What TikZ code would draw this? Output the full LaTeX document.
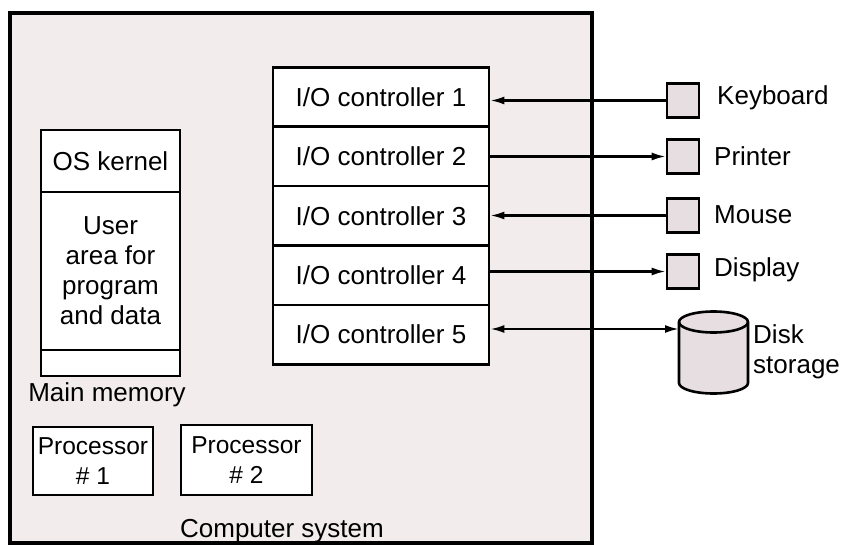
\documentclass[tikz,border=0pt]{standalone}
\usepackage{fontspec}
\setmainfont{Liberation Sans}
\usetikzlibrary{arrows.meta}
\definecolor{sysbg}{HTML}{F3ECEC}
\definecolor{devfill}{HTML}{E6DEE0}
\begin{document}
\begin{tikzpicture}[x=1pt,y=-1pt,
  box/.style={draw=black,line width=2.6pt,fill=white,inner sep=0pt,font=\fontsize{26}{30}\selectfont,align=center},
  iobox/.style={box,minimum width=216pt,minimum height=59.4pt},
  membox/.style={box,minimum width=139pt},
  procbox/.style={box,font=\fontsize{24.5}{30}\selectfont},
  dev/.style={draw=black,line width=2.6pt,fill=devfill,minimum width=32pt,minimum height=34pt,inner sep=0pt},
  lbl/.style={font=\fontsize{26}{30}\selectfont,inner sep=0pt},
  conn/.style={line width=2.3pt},
  tip/.style={-{Latex[length=14pt,width=8pt]}},
  biptip/.style={{Latex[length=14pt,width=8pt]}-{Latex[length=14pt,width=8pt]}}]
\useasboundingbox (0,0) rectangle (848,545);
% computer system
\node[draw=black,line width=3.2pt,fill=sysbg,minimum width=582pt,minimum height=530pt,inner sep=0pt] (sys) at (301,278) {};
\node[lbl] (syslbl) at (282,531) {Computer system};
% I/O controllers
\node[iobox] (io1) at (381,97) {I/O controller 1};
\node[iobox] (io2) at (381,156.4) {I/O controller 2};
\node[iobox] (io3) at (381,215.8) {I/O controller 3};
\node[iobox] (io4) at (381,275.2) {I/O controller 4};
\node[iobox] (io5) at (381,334.6) {I/O controller 5};
% main memory
\node[membox,minimum height=62pt] (osk) at (110.5,161) {OS kernel};
\node[membox,minimum height=158pt] (user) at (110.5,271) {User\\area for\\program\\and data};
\node[membox,minimum height=26pt] (free) at (110.5,363) {};
\node[lbl] (memlbl) at (107,395) {Main memory};
% processors
\node[procbox,minimum width=120pt,minimum height=68pt] (p1) at (93,461) {Processor\\\# 1};
\node[procbox,minimum width=131pt,minimum height=70pt] (p2) at (246.5,460) {Processor\\\# 2};
% devices
\node[dev] (kb) at (683,100.5) {};
\node[dev] (pr) at (683,156.5) {};
\node[dev] (ms) at (683,215.5) {};
\node[dev] (dp) at (683,271.5) {};
\node[lbl,anchor=west] (kblbl) at (717,98) {Keyboard};
\node[lbl,anchor=west] (prlbl) at (714,156) {Printer};
\node[lbl,anchor=west] (mslbl) at (714,215) {Mouse};
\node[lbl,anchor=west] (dplbl) at (714,270) {Display};
% disk
\filldraw[fill=devfill,draw=black,line width=2.6pt]
  (679,322) -- (679,383) arc[start angle=180,end angle=360,x radius=34.5pt,y radius=10.5pt]
  -- (748,322) arc[start angle=0,end angle=180,x radius=34.5pt,y radius=10.5pt] -- cycle;
\draw[line width=2.6pt] (679,322) arc[start angle=180,end angle=360,x radius=34.5pt,y radius=10.5pt];
\coordinate (disk) at (679,329);
\node[lbl,anchor=west,align=left] (disklbl) at (753,352) {Disk\\storage};
% connectors
\draw[conn,tip] (kb.west) -- (io1.east |- kb.west);
\draw[conn,tip] (io2.east |- pr.west) -- (pr.west);
\draw[conn,tip] (ms.west) -- (io3.east |- ms.west);
\draw[conn,tip] (io4.east |- dp.west) -- (dp.west);
\draw[conn,biptip] (io5.east |- disk) -- (disk);
\end{tikzpicture}
\end{document}
